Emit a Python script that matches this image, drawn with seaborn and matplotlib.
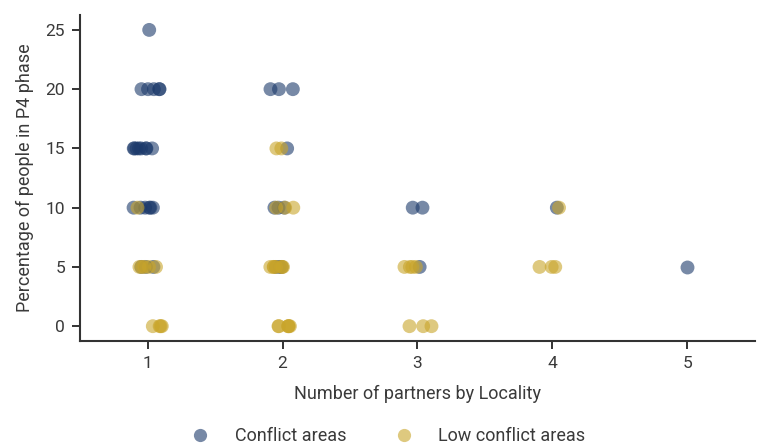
import numpy as np
import pandas as pd
import matplotlib
matplotlib.use("Agg")
import matplotlib.pyplot as plt
import seaborn as sns

# Localities in conflict areas: (number of partners, % of people in P4 phase)
conflict_partners = [1] * 23 + [2] * 10 + [3] * 3 + [4] * 1 + [5] * 1
conflict_pct = ([25] * 1 + [20] * 5 + [15] * 8 + [10] * 6 + [5] * 3
                + [20] * 3 + [15] * 1 + [10] * 3 + [5] * 3
                + [10] * 2 + [5] * 1
                + [10] * 1
                + [5] * 1)

# Localities in low conflict areas
low_partners = [1] * 10 + [2] * 18 + [3] * 7 + [4] * 4
low_pct = ([10] * 1 + [5] * 5 + [0] * 4
           + [15] * 2 + [10] * 3 + [5] * 7 + [0] * 6
           + [5] * 4 + [0] * 3
           + [10] * 1 + [5] * 3)

area_labels = ["Conflict areas", "Low conflict areas"]
partner_levels = [1, 2, 3, 4, 5]
y_ticks = [0, 5, 10, 15, 20, 25]

df = pd.DataFrame({
    "partners": conflict_partners + low_partners,
    "pct": conflict_pct + low_pct,
    "area": [area_labels[0]] * len(conflict_partners) + [area_labels[1]] * len(low_partners),
})

sns.set_style("ticks")
plt.rcParams["font.family"] = ["Roboto", "DejaVu Sans"]
text_color = "#3a3a3a"
plt.rcParams.update({
    "text.color": text_color,
    "axes.labelcolor": text_color,
    "xtick.color": "#333333",
    "ytick.color": "#333333",
    "axes.edgecolor": "#333333",
})

palette = {area_labels[0]: "#1c3a6b", area_labels[1]: "#c9a52a"}

np.random.seed(3)
fig = plt.figure(figsize=(7.57, 4.44), dpi=100)
ax = fig.add_axes([0.106, 0.232, 0.891, 0.734])
sns.stripplot(data=df, x="partners", y="pct", hue="area", order=partner_levels,
              hue_order=area_labels, palette=palette, jitter=0.11, size=10,
              alpha=0.6, linewidth=0, ax=ax)

ax.set_yticks(y_ticks)
ax.set_ylim(-1.25, 26.25)
ax.set_xlim(-0.5, 4.5)
ax.set_xlabel("Number of partners by Locality", fontsize=13, labelpad=10)
ax.set_ylabel("Percentage of people in P4 phase", fontsize=13, labelpad=8)
ax.tick_params(axis="both", labelsize=12.5, length=6, width=1.4, colors="#333333",
               labelcolor=text_color, pad=5)
for s in ("left", "bottom"):
    ax.spines[s].set_linewidth(1.5)
sns.despine(ax=ax)

handles, labels = ax.get_legend_handles_labels()
ax.legend(handles, labels, loc="upper center", bbox_to_anchor=(0.45, -0.231),
          ncol=2, frameon=False, fontsize=13, handletextpad=0.9,
          columnspacing=2.2, markerscale=0.95, borderaxespad=0.2)

fig.savefig("out.png", dpi=100)
